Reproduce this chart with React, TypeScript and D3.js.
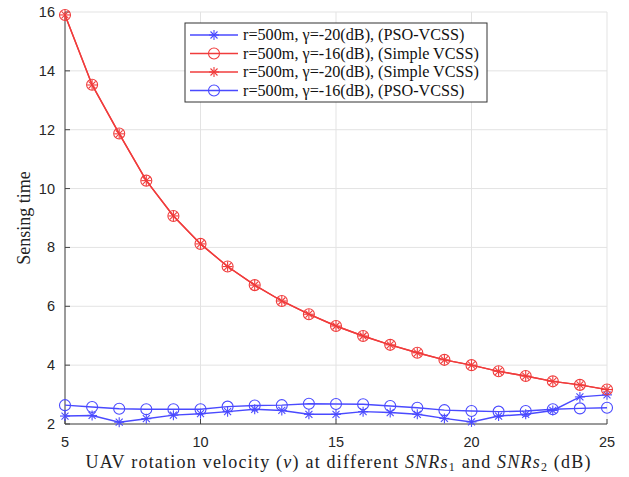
import React from 'react';
import * as d3 from 'd3';

// x values: UAV rotation velocity
const velocity = [5, 6, 7, 8, 9, 10, 11, 12, 13, 14, 15, 16, 17, 18, 19, 20, 21, 22, 23, 24, 25];

// r=500m, gamma=-20 dB, PSO-VCSS (blue stars)
const psoStar = [2.27, 2.29, 2.06, 2.18, 2.3, 2.35, 2.42, 2.5, 2.46, 2.33, 2.33, 2.42, 2.39, 2.33, 2.19, 2.07, 2.27, 2.33, 2.46, 2.92, 2.99];
// r=500m, gamma=-16 dB, Simple VCSS (red circles)
const simpleCircle = [15.9, 13.53, 11.87, 10.27, 9.07, 8.12, 7.35, 6.72, 6.18, 5.73, 5.33, 4.99, 4.69, 4.42, 4.18, 4.0, 3.79, 3.63, 3.45, 3.33, 3.17];
// r=500m, gamma=-20 dB, Simple VCSS (red stars)
const simpleStar = [15.9, 13.52, 11.86, 10.27, 9.07, 8.12, 7.35, 6.72, 6.18, 5.73, 5.33, 4.99, 4.69, 4.42, 4.18, 4.0, 3.79, 3.63, 3.45, 3.33, 3.17];
// r=500m, gamma=-16 dB, PSO-VCSS (blue circles)
const psoCircle = [2.64, 2.58, 2.52, 2.5, 2.5, 2.5, 2.59, 2.63, 2.64, 2.69, 2.68, 2.67, 2.61, 2.55, 2.47, 2.44, 2.42, 2.44, 2.5, 2.53, 2.55];

const xTicks = [5, 10, 15, 20, 25];
const yTicks = [2, 4, 6, 8, 10, 12, 14, 16];

const BLUE = '#4a4aff';
const RED = '#f03c3c';

const series = [
  { label: 'r=500m, γ=-20(dB), (PSO-VCSS)', values: psoStar, color: BLUE, marker: 'star' },
  { label: 'r=500m, γ=-16(dB), (Simple VCSS)', values: simpleCircle, color: RED, marker: 'circle' },
  { label: 'r=500m, γ=-20(dB), (Simple VCSS)', values: simpleStar, color: RED, marker: 'star' },
  { label: 'r=500m, γ=-16(dB), (PSO-VCSS)', values: psoCircle, color: BLUE, marker: 'circle' },
];

const W = 629;
const H = 477;
const margin = { top: 12, right: 22, bottom: 53, left: 65 };

const serif = '"Liberation Serif", "DejaVu Serif", serif';
const sans = '"Liberation Sans", Arial, sans-serif';

function Marker({ type, x, y, color }: { type: string; x: number; y: number; color: string }) {
  if (type === 'circle') {
    return <circle cx={x} cy={y} r={5.5} fill="none" stroke={color} strokeWidth={1.1} />;
  }
  const s = 5;
  const d = s * 0.7;
  return (
    <g stroke={color} strokeWidth={1.1}>
      <line x1={x - s} y1={y} x2={x + s} y2={y} />
      <line x1={x} y1={y - s} x2={x} y2={y + s} />
      <line x1={x - d} y1={y - d} x2={x + d} y2={y + d} />
      <line x1={x - d} y1={y + d} x2={x + d} y2={y - d} />
    </g>
  );
}

export default function App() {
  const xScale = d3.scaleLinear().domain([5, 25]).range([margin.left, W - margin.right]);
  const yScale = d3.scaleLinear().domain([2, 16]).range([H - margin.bottom, margin.top]);
  const line = d3
    .line<number>()
    .x((d, i) => xScale(velocity[i]))
    .y(d => yScale(d));

  const x0 = xScale(5);
  const x1 = xScale(25);
  const y0 = yScale(2);
  const y1 = yScale(16);

  const legend = { x: 185, y: 23, w: 302, h: 79, row: 18.5 };

  return (
    <svg width={W} height={H} style={{ position: 'absolute', left: 0, top: 0, background: '#fff' }}>
      {/* grid */}
      <g stroke="#e3e3e3" strokeWidth={1}>
        {xTicks.map(t => (
          <line key={'gx' + t} x1={xScale(t)} x2={xScale(t)} y1={y0} y2={y1} />
        ))}
        {yTicks.map(t => (
          <line key={'gy' + t} x1={x0} x2={x1} y1={yScale(t)} y2={yScale(t)} />
        ))}
      </g>

      {/* axes */}
      <g stroke="#444" strokeWidth={1}>
        <line x1={x0} x2={x0} y1={y0} y2={y1} />
        <line x1={x0} x2={x1} y1={y0} y2={y0} />
        {xTicks.map(t => (
          <line key={'tx' + t} x1={xScale(t)} x2={xScale(t)} y1={y0} y2={y0 - 5} />
        ))}
        {yTicks.map(t => (
          <line key={'ty' + t} x1={x0} x2={x0 + 5} y1={yScale(t)} y2={yScale(t)} />
        ))}
      </g>
      <g fontFamily={sans} fontSize={14.5} fill="#262626">
        {xTicks.map(t => (
          <text key={'lx' + t} x={xScale(t)} y={y0 + 23} textAnchor="middle">
            {t}
          </text>
        ))}
        {yTicks.map(t => (
          <text key={'ly' + t} x={x0 - 10} y={yScale(t) + 5} textAnchor="end">
            {t}
          </text>
        ))}
      </g>

      {/* series */}
      {series.map((s, si) => (
        <g key={'s' + si}>
          <path d={line(s.values) || ''} fill="none" stroke={s.color} strokeWidth={1.4} />
          {s.values.map((v, i) => (
            <Marker key={i} type={s.marker} x={xScale(velocity[i])} y={yScale(v)} color={s.color} />
          ))}
        </g>
      ))}

      {/* legend */}
      <g>
        <rect x={legend.x} y={legend.y} width={legend.w} height={legend.h} fill="#fff" stroke="#333" strokeWidth={1} />
        {series.map((s, i) => {
          const cy = legend.y + 12 + i * legend.row;
          return (
            <g key={'lg' + i}>
              <line x1={legend.x + 5} x2={legend.x + 53} y1={cy} y2={cy} stroke={s.color} strokeWidth={1.4} />
              <Marker type={s.marker} x={legend.x + 29} y={cy} color={s.color} />
              <text x={legend.x + 58} y={cy + 5} fontFamily={serif} fontSize={16.2} fill="#111">
                {s.label}
              </text>
            </g>
          );
        })}
      </g>

      {/* axis titles */}
      <text
        x={(x0 + x1) / 2 + 2}
        y={H - 9}
        textAnchor="middle"
        fontFamily={serif}
        fontSize={18}
        fill="#222"
        textLength={505}
        lengthAdjust="spacing"
      >
        UAV rotation velocity (<tspan fontStyle="italic">v</tspan>) at different{' '}
        <tspan fontStyle="italic">SNRs</tspan>
        <tspan fontSize={12} dy={3}>1</tspan>
        <tspan dy={-3}> and </tspan>
        <tspan fontStyle="italic">SNRs</tspan>
        <tspan fontSize={12} dy={3}>2</tspan>
        <tspan dy={-3}> (dB)</tspan>
      </text>
      <text
        transform={`translate(30, ${(y0 + y1) / 2}) rotate(-90)`}
        textAnchor="middle"
        fontFamily={serif}
        fontSize={18}
        fill="#222"
      >
        Sensing time
      </text>
    </svg>
  );
}
